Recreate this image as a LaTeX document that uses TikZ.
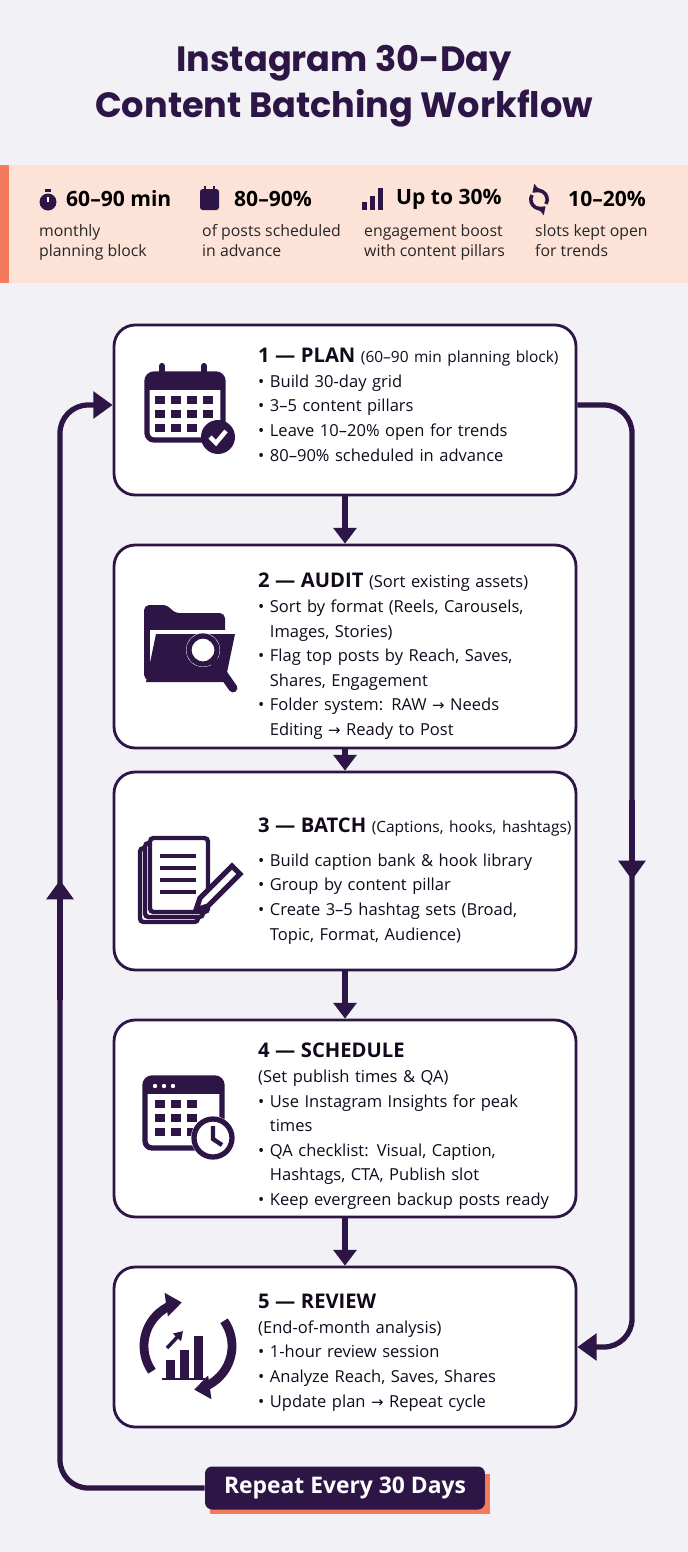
\documentclass[tikz,border=0pt]{standalone}
\usepackage{fontspec}
\setmainfont{Open Sans}
\newfontfamily\titlefont{Poppins}
\newfontfamily\symfont{DejaVu Sans}
\usetikzlibrary{positioning,arrows.meta}

\definecolor{ink}{HTML}{2D1646}
\definecolor{bg}{HTML}{F2F1F5}
\definecolor{peach}{HTML}{FDE2D8}
\definecolor{coral}{HTML}{F47A5C}

\tikzset{
  stepbox/.style={draw=ink, line width=1.6pt, fill=white, rounded corners=12pt,
    minimum width=9.24cm},
  steptext/.style={anchor=north west, align=left, text width=6.8cm,
    font=\fontsize{9.4}{14}\selectfont, text=ink!40!black},
  flow/.style={draw=ink, line width=3.2pt, -{Triangle[length=9pt,width=13pt]}},
  loop/.style={draw=ink, line width=3pt, rounded corners=16pt},
  stat/.style={anchor=north west, align=left, font=\fontsize{9}{11.3}\selectfont, text=black!85},
  statnum/.style={anchor=west, font=\bfseries\fontsize{12}{14}\selectfont, text=black}
}
\newcommand{\itm}{\textbullet\ }
\newcommand{\cnt}{\hphantom{\textbullet\ }}
\newcommand{\ra}{{\symfont\fontsize{8.5}{14}\selectfont →}}

\begin{document}
\begin{tikzpicture}[x=0.02cm,y=-0.02cm]
\fill[bg] (0,0) rectangle (688,1552);
\useasboundingbox (0,0) rectangle (688,1552);

% title
\node[font=\titlefont\bfseries\fontsize{20}{26}\selectfont, text=ink, align=center] (title) at (344,86)
  {Instagram 30-Day\\Content Batching Workflow};

% stats banner
\fill[peach] (0,165) rectangle (688,283);
\fill[coral] (0,165) rectangle (9,283);
\node[statnum] (s1) at (60,199) {60--90 min};
\node[statnum] (s2) at (228,199) {80--90\%};
\node[statnum] (s3) at (390,199) {Up to 30\%};
\node[statnum] (s4) at (562,199) {10--20\%};
\node[stat] (t1) at (33,218) {monthly\\planning block};
\node[stat] (t2) at (196,218) {of posts scheduled\\in advance};
\node[stat] (t3) at (358,218) {engagement boost\\with content pillars};
\node[stat] (t4) at (529,218) {slots kept open\\for trends};
% stat icons
\fill[ink] (48,202) circle (8.5); \fill[ink] (45,189) rectangle (51,192);
\draw[white, line width=1pt] (48,202) -- (48,197);
\fill[ink, rounded corners=1.5pt] (200,189) rectangle (219,210);
\fill[ink] (204,186) rectangle (206,191); \fill[ink] (213,186) rectangle (215,191);
\fill[ink] (362,202) rectangle (367,210); \fill[ink] (370,196) rectangle (375,210); \fill[ink] (378,188) rectangle (383,210);
\draw[ink, line width=2pt, -{Triangle[length=4pt,width=6pt]}] (546,204) arc (30:-130:9);
\draw[ink, line width=2pt, -{Triangle[length=4pt,width=6pt]}] (532,195) arc (210:50:9);

% step boxes
\node[stepbox, minimum height=3.4cm] (plan) at (345,410) {};
\node[stepbox, minimum height=4.06cm] (audit) at (345,646.5) {};
\node[stepbox, minimum height=3.96cm] (batch) at (345,871) {};
\node[stepbox, minimum height=3.94cm] (sched) at (345,1118.5) {};
\node[stepbox, minimum height=3.2cm] (review) at (345,1347) {};

\node[steptext] (plant) at (252,342) {\textbf{\fontsize{11.5}{14}\selectfont 1 — PLAN} {\fontsize{8.8}{14}\selectfont(60–90 min planning block)}\\
\itm Build 30-day grid\\ \itm 3–5 content pillars\\ \itm Leave 10–20\% open for trends\\ \itm 80–90\% scheduled in advance};
\node[steptext] (auditt) at (252,567) {\textbf{\fontsize{11.5}{14}\selectfont 2 — AUDIT} (Sort existing assets)\\
\itm Sort by format (Reels, Carousels,\\ \cnt Images, Stories)\\ \itm Flag top posts by Reach, Saves,\\ \cnt Shares, Engagement\\
\itm Folder system: RAW \ra\ Needs\\ \cnt Editing \ra\ Ready to Post};
\node[steptext] (batcht) at (252,812) {\textbf{\fontsize{11.5}{14}\selectfont 3 — BATCH} {\fontsize{8.8}{14}\selectfont(Captions, hooks, hashtags)}\\[5pt]
\itm Build caption bank \& hook library\\ \itm Group by content pillar\\ \itm Create 3–5 hashtag sets (Broad,\\ \cnt Topic, Format, Audience)};
\node[steptext] (schedt) at (252,1037) {\textbf{\fontsize{11.5}{14}\selectfont 4 — SCHEDULE}\\ (Set publish times \& QA)\\
\itm Use Instagram Insights for peak\\ \cnt times\\ \itm QA checklist: Visual, Caption,\\ \cnt Hashtags, CTA, Publish slot\\ \itm Keep evergreen backup posts ready};
\node[steptext] (reviewt) at (252,1288) {\textbf{\fontsize{11.5}{14}\selectfont 5 — REVIEW}\\ (End-of-month analysis)\\
\itm 1-hour review session\\ \itm Analyze Reach, Saves, Shares\\ \itm Update plan \ra\ Repeat cycle};

% icons
\begin{scope}[ink]
  % calendar + check
  \draw[line width=3pt, rounded corners=4pt] (147,374) rectangle (223,440);
  \fill (147,374) rectangle (223,390);
  \foreach \x in {162,204} \draw[line width=3.5pt, line cap=round] (\x,366) -- (\x,380);
  \foreach \x in {160,176,192,208} \foreach \y in {400,414} \fill (\x-5,\y-4) rectangle (\x+5,\y+4);
  \foreach \x in {160,176,192} \fill (\x-5,424) rectangle (\x+5,432);
  \fill (218,437) circle (17);
  \draw[white, line width=2.5pt] (210,437) -- (216,443) -- (226,431);
  % folder + magnifier
  \fill[rounded corners=3pt] (144,605) -- (168,605) -- (174,613) -- (225,613) -- (225,680) -- (144,680) -- cycle;
  \fill[white] (150,630) -- (231,630) -- (221,676) -- (150,676) -- cycle;
  \fill (156,634) -- (235,634) -- (225,682) -- (146,682) -- cycle;
  \fill[white] (203,650) circle (17); \draw[line width=3pt] (203,650) circle (14);
  \draw[line width=5pt, line cap=round] (214,661) -- (233,688);
  % documents + pencil
  \foreach \o in {10,5,0} \draw[line width=2.5pt, fill=white, rounded corners=2pt] (150-\o,838+\o) rectangle (208-\o,912+\o);
  \foreach \y in {856,868,880,892} \draw[line width=2pt] (160,\y) -- (196,\y);
  \draw[line width=3pt, fill=white] (232,866) -- (240,874) -- (208,906) -- (196,910) -- (200,898) -- cycle;
  % calendar + clock
  \draw[line width=3pt, rounded corners=4pt] (145,1078) rectangle (222,1148);
  \fill (145,1078) rectangle (222,1094);
  \foreach \x in {155,164,173} \fill[white] (\x,1086) circle (2.2);
  \foreach \x in {160,176,192} \foreach \y in {1104,1118,1132} \fill (\x-5,\y-4) rectangle (\x+5,\y+4);
  \fill[white] (213,1138) circle (22); \draw[line width=3pt] (213,1138) circle (19);
  \draw[line width=2.5pt] (213,1126) -- (213,1139) -- (222,1145);
  % review cycle
  \draw[line width=5pt, -{Triangle[length=9pt,width=13pt]}] (188,1346) ++(145:44) arc (145:262:44);
  \draw[line width=5pt, -{Triangle[length=9pt,width=13pt]}] (188,1346) ++(-35:44) arc (-35:82:44);
  \fill (166,1360) rectangle (175,1378); \fill (180,1350) rectangle (189,1378);
  \fill (194,1336) rectangle (203,1378); \draw[line width=1.5pt] (162,1379) -- (207,1379);
  \draw[line width=2pt, -{Triangle[length=5pt,width=6pt]}] (167,1348) -- (183,1331);
\end{scope}

% flow arrows
\draw[flow] (plan) -- (audit);
\draw[flow] (audit) -- (batch);
\draw[flow] (batch) -- (sched);
\draw[flow] (sched) -- (review);

% repeat badge
\fill[coral] (210,1474) rectangle (490,1514);
\node[fill=ink, rounded corners=4pt, text=white, minimum width=5.6cm, minimum height=0.86cm,
  font=\bfseries\fontsize{13}{15}\selectfont] (repeat) at (345,1488) {Repeat Every 30 Days};

% loops
\coordinate (lc) at (60,880);
\coordinate (rc) at (632,880);
\draw[loop] (repeat.west) -| (lc);
\draw[loop, -{Triangle[length=11pt,width=15pt]}] (60,1000) -- (lc);
\draw[loop, -{Triangle[length=11pt,width=15pt]}] (lc) |- (plan.west |- 0,405);
\draw[loop] (plan.east |- 0,405) -| (rc);
\draw[loop, -{Triangle[length=11pt,width=15pt]}] (rc) |- (review.east);
\draw[loop, -{Triangle[length=11pt,width=15pt]}] (632,800) -- (rc);
\end{tikzpicture}
\end{document}
